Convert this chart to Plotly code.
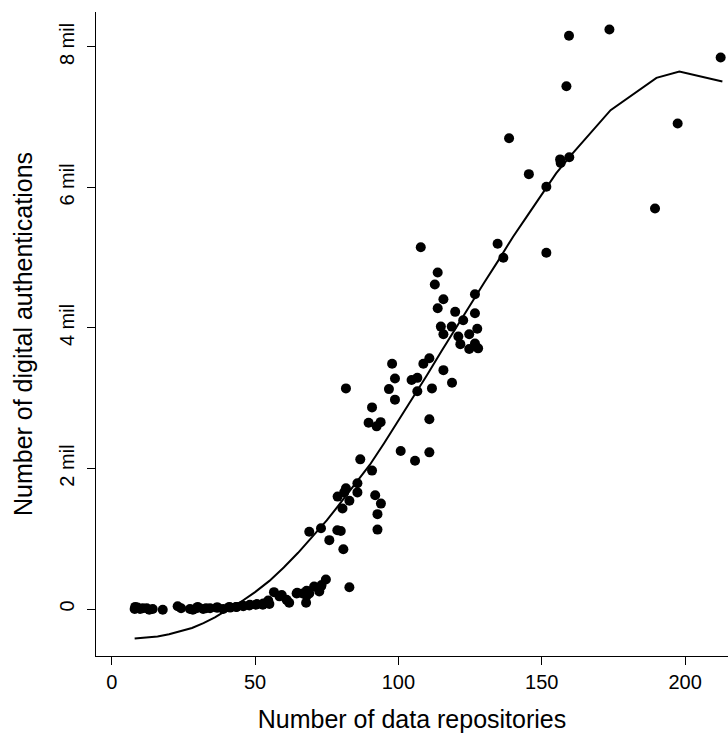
import plotly.graph_objects as go

# Observed counts: repositories per site vs. digital authentications (millions)
repos = [
    8.0, 8.2, 8.5, 9.0, 9.9, 10.8, 12.2, 13.1, 14.3, 17.8, 23.0, 24.2, 27.3, 28.3,
    29.6, 30.0, 31.9, 32.9, 34.3, 36.6, 37.0, 38.9, 41.0, 41.3, 43.4, 43.6, 45.7,
    45.9, 48.0, 48.2, 50.3, 50.6, 52.7, 52.9, 54.6, 55.0, 56.6, 58.5, 59.3, 61.0,
    61.9, 64.5, 64.7, 66.6, 67.8, 68.0, 68.0, 68.9, 70.6, 72.4, 73.0, 73.2, 74.7,
    82.9,
    68.9, 73.0, 75.9, 78.7, 79.9, 80.8, 78.8, 80.5, 81.1, 81.7, 82.9, 85.7, 85.7,
    86.7, 90.8, 91.9, 93.9, 92.7, 92.7, 81.7, 89.6, 92.4, 93.8, 90.8, 96.7, 98.8,
    98.8, 97.8, 100.8, 104.6, 106.6, 106.6, 105.8, 108.7, 110.8, 110.8, 110.8,
    111.7, 115.7, 118.7, 107.8, 113.7, 112.7, 115.7, 113.7, 114.8, 115.7, 118.6,
    119.8, 120.9, 121.6, 122.6, 124.7, 124.7, 126.7, 126.7, 126.7, 127.5, 127.8,
    134.6, 136.6, 138.6, 145.5, 151.6, 151.6, 156.4, 156.6, 159.6, 158.6, 159.5,
    173.6, 189.5, 197.4, 212.4,
]
auths_mil = [
    0.00, 0.03, 0.01, 0.02, 0.00, 0.01, 0.01, -0.01, 0.00, -0.01, 0.04, 0.01, 0.00,
    -0.01, 0.01, 0.03, 0.00, 0.01, 0.01, 0.02, 0.02, 0.00, 0.03, 0.02, 0.03, 0.03,
    0.05, 0.04, 0.05, 0.06, 0.06, 0.07, 0.06, 0.08, 0.12, 0.07, 0.24, 0.18, 0.20,
    0.13, 0.09, 0.22, 0.23, 0.22, 0.09, 0.19, 0.26, 0.22, 0.32, 0.25, 0.32, 0.34,
    0.42, 0.31,
    1.10, 1.15, 0.98, 1.12, 1.11, 0.85, 1.60, 1.43, 1.66, 1.72, 1.54, 1.66, 1.79,
    2.13, 1.97, 1.62, 1.50, 1.35, 1.13, 3.14, 2.65, 2.60, 2.66, 2.87, 3.13, 2.98,
    3.28, 3.49, 2.25, 3.26, 3.29, 3.10, 2.11, 3.49, 3.57, 2.70, 2.23, 3.14, 3.40,
    3.22, 5.15, 4.79, 4.62, 4.41, 4.28, 4.02, 3.91, 4.02, 4.23, 3.88, 3.77, 4.11,
    3.91, 3.70, 4.48, 4.21, 3.78, 3.99, 3.71,
    5.20, 5.00, 6.70, 6.19, 6.01, 5.07, 6.40, 6.35, 6.43, 7.44, 8.16, 8.25, 5.70,
    6.91, 7.85,
]

# Smoothed trend (fitted values)
fit_x = [8, 12, 16, 20, 24, 28, 32, 36, 40, 45, 50, 55, 60, 65, 70, 75, 80, 85,
         90, 95, 100, 105, 110, 115, 120, 125, 130, 135, 140, 145, 150, 155,
         160, 174, 190, 198, 213]
fit_mil = [-0.42, -0.41, -0.39, -0.36, -0.32, -0.27, -0.20, -0.12, -0.02, 0.10,
           0.24, 0.40, 0.59, 0.80, 1.03, 1.26, 1.52, 1.78, 2.05, 2.36, 2.68,
           3.00, 3.33, 3.67, 4.00, 4.33, 4.65, 4.97, 5.30, 5.60, 5.90, 6.20,
           6.45, 7.10, 7.56, 7.65, 7.51]

x_ticks = [0, 50, 100, 150, 200]
y_ticks = [0, 2, 4, 6, 8]
y_tick_labels = ["0", "2 mil", "4 mil", "6 mil", "8 mil"]

FONT = "Liberation Sans, Arial, Helvetica, sans-serif"

fig = go.Figure()
fig.add_trace(go.Scatter(
    x=repos, y=auths_mil, mode="markers",
    marker=dict(color="black", size=10, line=dict(width=0)),
    showlegend=False, hoverinfo="skip",
))
fig.add_trace(go.Scatter(
    x=fit_x, y=fit_mil, mode="lines",
    line=dict(color="black", width=2),
    showlegend=False, hoverinfo="skip",
))

fig.update_layout(
    width=728, height=736,
    margin=dict(l=96, r=0, t=12, b=80),
    paper_bgcolor="white", plot_bgcolor="white",
    font=dict(family=FONT, color="black"),
    xaxis=dict(
        range=[-5.48, 214.96],
        tickvals=x_ticks, ticktext=[str(v) for v in x_ticks],
        showgrid=False, zeroline=False,
        showline=True, linecolor="black", linewidth=1,
        ticks="outside", ticklen=8, tickwidth=1, tickcolor="black",
        tickfont=dict(size=20),
        title=dict(text="Number of data repositories", font=dict(size=25),
                   standoff=18),
    ),
    yaxis=dict(
        range=[-0.669, 8.498],
        tickvals=y_ticks, ticktext=y_tick_labels, tickangle=-90,
        ticklabelstandoff=5,
        showgrid=False, zeroline=False,
        showline=True, linecolor="black", linewidth=1,
        ticks="outside", ticklen=8, tickwidth=1, tickcolor="black",
        tickfont=dict(size=20),
        title=dict(text="Number of digital authentications", font=dict(size=25),
                   standoff=16),
    ),
)

fig.write_html("out.html")
